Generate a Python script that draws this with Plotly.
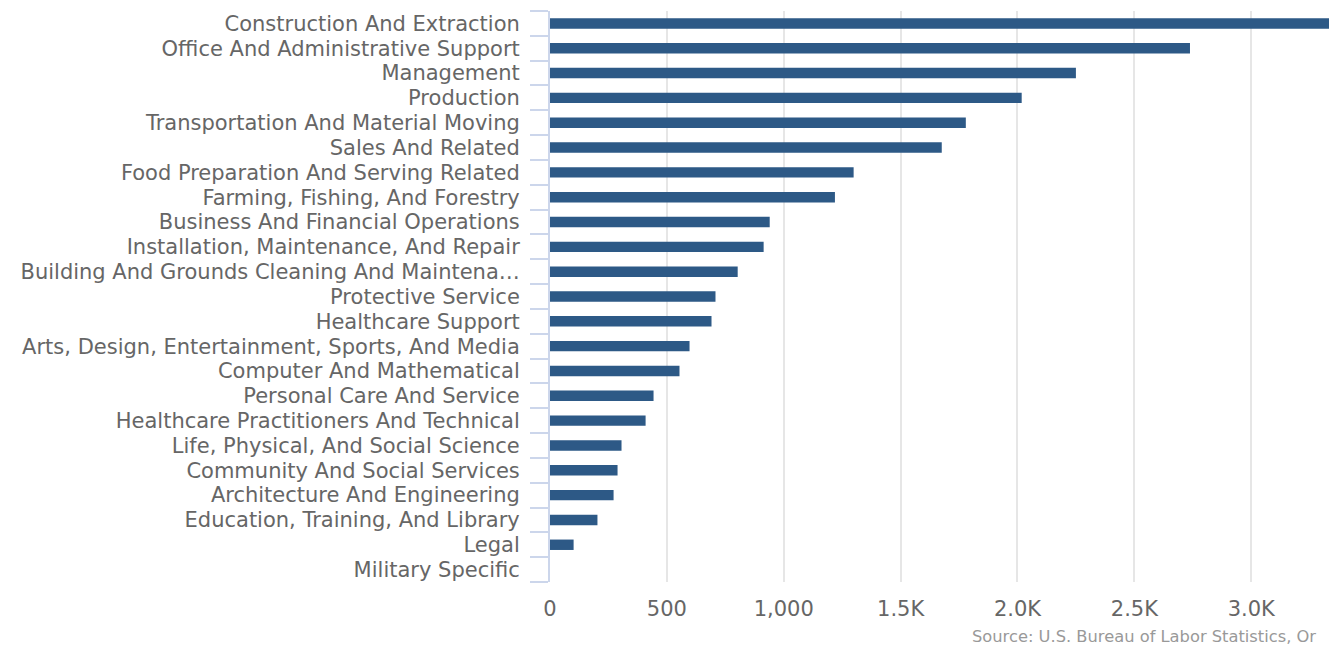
import plotly.graph_objects as go

categories = [
    "Construction And Extraction",
    "Office And Administrative Support",
    "Management",
    "Production",
    "Transportation And Material Moving",
    "Sales And Related",
    "Food Preparation And Serving Related",
    "Farming, Fishing, And Forestry",
    "Business And Financial Operations",
    "Installation, Maintenance, And Repair",
    "Building And Grounds Cleaning And Maintena…",
    "Protective Service",
    "Healthcare Support",
    "Arts, Design, Entertainment, Sports, And Media",
    "Computer And Mathematical",
    "Personal Care And Service",
    "Healthcare Practitioners And Technical",
    "Life, Physical, And Social Science",
    "Community And Social Services",
    "Architecture And Engineering",
    "Education, Training, And Library",
    "Legal",
    "Military Specific",
]
values = [3366, 2738, 2250, 2018, 1779, 1676, 1299, 1219, 940, 914, 803, 708,
          691, 597, 554, 443, 409, 306, 289, 272, 203, 101, 0]

tick_vals = [0, 500, 1000, 1500, 2000, 2500, 3000]
tick_text = ["0", "500", "1,000", "1.5K", "2.0K", "2.5K", "3.0K"]
source_text = "Source: U.S. Bureau of Labor Statistics, Or"

FONT = "DejaVu Sans"

fig = go.Figure(go.Bar(
    x=values, y=categories, orientation="h",
    marker=dict(color="#2d5986", line=dict(width=0)),
    hoverinfo="x+y",
))

fig.update_layout(
    width=1329, height=639,
    margin=dict(l=542, r=0, t=3, b=65),
    paper_bgcolor="white", plot_bgcolor="white",
    bargap=0.58,
    showlegend=False,
    font=dict(family=FONT, color="#666666", size=21),
    xaxis=dict(
        range=[0, 3367], tickvals=tick_vals, ticktext=tick_text,
        showgrid=True, gridcolor="#e6e6e6", gridwidth=2,
        zeroline=False, showline=False, ticks="",
        tickfont=dict(family=FONT, size=21, color="#666666"),
        ticklabelstandoff=12,
    ),
    yaxis=dict(
        categoryorder="array", categoryarray=categories[::-1],
        autorange=False, range=[-0.5, len(categories) - 0.5],
        tickmode="linear", tick0=0, dtick=1,
        showline=True, linecolor="#ccd6eb", linewidth=2,
        ticks="outside", tickson="boundaries", ticklen=18,
        tickcolor="#ccd6eb", tickwidth=2,
        showgrid=False, zeroline=False,
        tickfont=dict(family=FONT, size=21, color="#666666"),
        ticklabelstandoff=24,
    ),
    annotations=[dict(
        text=source_text, xref="paper", yref="paper",
        x=(962 - 542) / (1329 - 542), y=0, yshift=-54,
        xanchor="left", yanchor="middle",
        showarrow=False, font=dict(family=FONT, size=16.3, color="#999999"),
    )],
)

fig.write_html("out.html")
